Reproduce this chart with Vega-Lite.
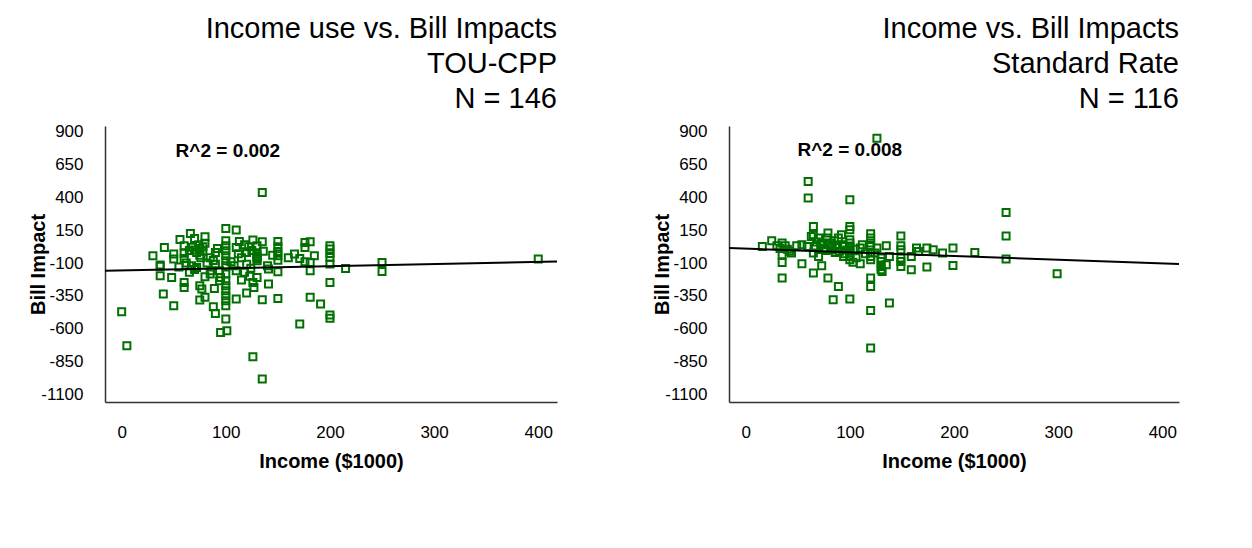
{
  "$schema": "https://vega.github.io/schema/vega-lite/v6.json",
  "padding": {"left": 28, "top": 14, "right": 5, "bottom": 5},
  "background": "white",
  "config": {
    "view": {"stroke": null},
    "font": "Liberation Sans",
    "axis": {"grid": false, "ticks": false, "domainColor": "#333333", "domainWidth": 1.5, "labelFont": "Liberation Sans", "labelFontSize": 17, "labelColor": "#000000", "titleFont": "Liberation Sans", "titleFontSize": 20, "titleFontWeight": "bold", "titleColor": "#000000", "labelExpr": "datum.value + ''"},
    "axisX": {"labelPadding": 22, "titlePadding": 11},
    "axisY": {"labelPadding": 22, "titlePadding": -8},
    "title": {"font": "Liberation Sans", "fontSize": 29, "fontWeight": "normal", "anchor": "end", "lineHeight": 35, "color": "#000000", "offset": 9, "frame": "group"}
  },
  "datasets": {
    "tou": [
      {"income": 0, "impact": -472}, {"income": 5, "impact": -731}, {"income": 30, "impact": -45}, {"income": 37, "impact": -115}, {"income": 37, "impact": -125},
      {"income": 37, "impact": -197}, {"income": 40, "impact": -337}, {"income": 41, "impact": 18}, {"income": 48, "impact": -210}, {"income": 50, "impact": -32},
      {"income": 50, "impact": -70}, {"income": 50, "impact": -426}, {"income": 56, "impact": 79}, {"income": 60, "impact": 31}, {"income": 60, "impact": -25},
      {"income": 60, "impact": -65}, {"income": 60, "impact": -248}, {"income": 60, "impact": -286}, {"income": 66, "impact": 125}, {"income": 70, "impact": 87},
      {"income": 70, "impact": -150}, {"income": 65, "impact": -5}, {"income": 68, "impact": 20}, {"income": 70, "impact": 0}, {"income": 72, "impact": -20},
      {"income": 74, "impact": 40}, {"income": 75, "impact": 10}, {"income": 75, "impact": -40}, {"income": 76, "impact": -60}, {"income": 78, "impact": 25},
      {"income": 78, "impact": -10}, {"income": 80, "impact": 100}, {"income": 80, "impact": 50}, {"income": 80, "impact": -205}, {"income": 80, "impact": -362},
      {"income": 75, "impact": -273}, {"income": 77, "impact": -299}, {"income": 75, "impact": -383}, {"income": 82, "impact": -100}, {"income": 85, "impact": -184},
      {"income": 86, "impact": -159}, {"income": 89, "impact": -294}, {"income": 88, "impact": -433}, {"income": 90, "impact": -485}, {"income": 90, "impact": -20},
      {"income": 94, "impact": -159}, {"income": 95, "impact": -210}, {"income": 94, "impact": -235}, {"income": 95, "impact": -629}, {"income": 100, "impact": 163},
      {"income": 100, "impact": 69}, {"income": 100, "impact": 31}, {"income": 100, "impact": -7}, {"income": 100, "impact": -45}, {"income": 100, "impact": -83},
      {"income": 100, "impact": -121}, {"income": 100, "impact": -184}, {"income": 100, "impact": -235}, {"income": 100, "impact": -273}, {"income": 100, "impact": -311},
      {"income": 100, "impact": -350}, {"income": 100, "impact": -388}, {"income": 100, "impact": -426}, {"income": 100, "impact": -527}, {"income": 101, "impact": -616},
      {"income": 110, "impact": 151}, {"income": 110, "impact": 18}, {"income": 110, "impact": -159}, {"income": 110, "impact": -375}, {"income": 113, "impact": 64},
      {"income": 115, "impact": -60}, {"income": 118, "impact": -170}, {"income": 120, "impact": -329}, {"income": 122, "impact": 24}, {"income": 120, "impact": -20},
      {"income": 125, "impact": -5}, {"income": 123, "impact": -200}, {"income": 126, "impact": 75}, {"income": 126, "impact": -248}, {"income": 126, "impact": -815},
      {"income": 127, "impact": -286}, {"income": 130, "impact": 31}, {"income": 130, "impact": -32}, {"income": 130, "impact": -45}, {"income": 130, "impact": -58},
      {"income": 130, "impact": -70}, {"income": 130, "impact": -83}, {"income": 130, "impact": -210}, {"income": 135, "impact": 438}, {"income": 135, "impact": 62},
      {"income": 136, "impact": -10}, {"income": 135, "impact": -380}, {"income": 135, "impact": -985}, {"income": 141, "impact": -146}, {"income": 141, "impact": -260},
      {"income": 150, "impact": 64}, {"income": 150, "impact": 24}, {"income": 150, "impact": -12}, {"income": 150, "impact": -45}, {"income": 150, "impact": -78},
      {"income": 150, "impact": -167}, {"income": 150, "impact": -370}, {"income": 166, "impact": -32}, {"income": 171, "impact": -65}, {"income": 171, "impact": -565},
      {"income": 176, "impact": 57}, {"income": 176, "impact": 18}, {"income": 176, "impact": -91}, {"income": 181, "impact": 62}, {"income": 181, "impact": -96},
      {"income": 181, "impact": -159}, {"income": 181, "impact": -362}, {"income": 185, "impact": -45}, {"income": 191, "impact": -413}, {"income": 200, "impact": 31},
      {"income": 200, "impact": 6}, {"income": 200, "impact": -27}, {"income": 200, "impact": -58}, {"income": 200, "impact": -108}, {"income": 200, "impact": -248},
      {"income": 200, "impact": -497}, {"income": 200, "impact": -522}, {"income": 215, "impact": -142}, {"income": 250, "impact": -96}, {"income": 250, "impact": -164},
      {"income": 400, "impact": -70}, {"income": 62, "impact": -100}, {"income": 67, "impact": -120}, {"income": 72, "impact": -135}, {"income": 85, "impact": -60},
      {"income": 88, "impact": -80}, {"income": 92, "impact": 10}, {"income": 105, "impact": -90}, {"income": 108, "impact": -120}, {"income": 112, "impact": -30},
      {"income": 118, "impact": 40}, {"income": 120, "impact": -110}, {"income": 124, "impact": -140}, {"income": 140, "impact": -120}, {"income": 145, "impact": -40},
      {"income": 55, "impact": -130}, {"income": 65, "impact": -170}, {"income": 90, "impact": -110}, {"income": 115, "impact": -230}, {"income": 160, "impact": -60}
    ],
    "std": [
      {"income": 16, "impact": 26}, {"income": 25, "impact": 70}, {"income": 30, "impact": 31}, {"income": 33, "impact": 10}, {"income": 35, "impact": 52},
      {"income": 35, "impact": -37}, {"income": 35, "impact": -96}, {"income": 35, "impact": -215}, {"income": 38, "impact": 31}, {"income": 40, "impact": 5},
      {"income": 42, "impact": -10}, {"income": 44, "impact": -24}, {"income": 49, "impact": 31}, {"income": 54, "impact": 39}, {"income": 54, "impact": -106},
      {"income": 59, "impact": 26}, {"income": 60, "impact": 521}, {"income": 60, "impact": 395}, {"income": 63, "impact": 102}, {"income": 65, "impact": 178},
      {"income": 65, "impact": 115}, {"income": 65, "impact": -24}, {"income": 65, "impact": -177}, {"income": 67, "impact": 26}, {"income": 68, "impact": 60},
      {"income": 70, "impact": 90}, {"income": 70, "impact": -50}, {"income": 72, "impact": 40}, {"income": 73, "impact": 52}, {"income": 73, "impact": -121},
      {"income": 75, "impact": 10}, {"income": 76, "impact": 14}, {"income": 77, "impact": -5}, {"income": 78, "impact": 90}, {"income": 79, "impact": 128},
      {"income": 79, "impact": -215}, {"income": 80, "impact": 40}, {"income": 81, "impact": 52}, {"income": 82, "impact": 0}, {"income": 83, "impact": 26},
      {"income": 84, "impact": -380}, {"income": 85, "impact": 70}, {"income": 86, "impact": -20}, {"income": 88, "impact": 20}, {"income": 89, "impact": 90},
      {"income": 89, "impact": -279}, {"income": 90, "impact": -10}, {"income": 92, "impact": 115}, {"income": 93, "impact": 40}, {"income": 94, "impact": -50},
      {"income": 95, "impact": 26}, {"income": 95, "impact": -30}, {"income": 97, "impact": 0}, {"income": 100, "impact": 382}, {"income": 100, "impact": 178},
      {"income": 100, "impact": 153}, {"income": 100, "impact": 77}, {"income": 100, "impact": 52}, {"income": 100, "impact": 30}, {"income": 100, "impact": 14},
      {"income": 100, "impact": -5}, {"income": 100, "impact": -24}, {"income": 100, "impact": -50}, {"income": 100, "impact": -75}, {"income": 100, "impact": -375},
      {"income": 103, "impact": -95}, {"income": 106, "impact": -60}, {"income": 110, "impact": 14}, {"income": 110, "impact": -106}, {"income": 120, "impact": 123},
      {"income": 120, "impact": 90}, {"income": 120, "impact": 52}, {"income": 120, "impact": 26}, {"income": 120, "impact": -20}, {"income": 120, "impact": -50},
      {"income": 120, "impact": -75}, {"income": 120, "impact": -215}, {"income": 120, "impact": -279}, {"income": 120, "impact": -462}, {"income": 120, "impact": -748},
      {"income": 124, "impact": -24}, {"income": 126, "impact": 852}, {"income": 126, "impact": 14}, {"income": 130, "impact": -62}, {"income": 130, "impact": -88},
      {"income": 130, "impact": -126}, {"income": 130, "impact": -152}, {"income": 131, "impact": -165}, {"income": 135, "impact": 31}, {"income": 135, "impact": -113},
      {"income": 138, "impact": -50}, {"income": 138, "impact": -405}, {"income": 149, "impact": 107}, {"income": 149, "impact": 31}, {"income": 149, "impact": 1},
      {"income": 149, "impact": -62}, {"income": 149, "impact": -88}, {"income": 149, "impact": -126}, {"income": 159, "impact": -50}, {"income": 159, "impact": -152},
      {"income": 164, "impact": 14}, {"income": 166, "impact": -12}, {"income": 174, "impact": 14}, {"income": 174, "impact": -131}, {"income": 180, "impact": 1},
      {"income": 189, "impact": -24}, {"income": 199, "impact": 14}, {"income": 199, "impact": -119}, {"income": 220, "impact": -20}, {"income": 250, "impact": 285},
      {"income": 250, "impact": 107}, {"income": 250, "impact": -70}, {"income": 299, "impact": -182}, {"income": 112, "impact": 40}, {"income": 115, "impact": -30},
      {"income": 105, "impact": 5}
    ],
    "touTrend": [{"income": -16, "impact": -159}, {"income": 418, "impact": -88}],
    "stdTrend": [{"income": -16, "impact": 14}, {"income": 416, "impact": -107}],
    "touLabel": [{"income": 102, "impact": 755, "label": "R^2 = 0.002"}],
    "stdLabel": [{"income": 100, "impact": 760, "label": "R^2 = 0.008"}]
  },
  "spacing": 91,
  "hconcat": [
    {
      "width": 452,
      "height": 276,
      "title": {"text": ["Income use vs. Bill Impacts", "TOU-CPP", "N = 146"]},
      "encoding": {
        "x": {"field": "income", "type": "quantitative", "scale": {"domain": [-16, 418], "nice": false, "zero": false}, "axis": {"values": [0, 100, 200, 300, 400], "title": "Income ($1000)"}},
        "y": {"field": "impact", "type": "quantitative", "scale": {"domain": [-1160, 945], "nice": false, "zero": false}, "axis": {"values": [-1100, -850, -600, -350, -100, 150, 400, 650, 900], "title": "Bill Impact"}}
      },
      "layer": [
        {"data": {"name": "tou"}, "mark": {"type": "point", "shape": "square", "filled": false, "size": 49, "strokeWidth": 2, "color": "#007000", "opacity": 1}},
        {"data": {"name": "touTrend"}, "mark": {"type": "line", "color": "#000000", "strokeWidth": 2}},
        {"data": {"name": "touLabel"}, "mark": {"type": "text", "fontWeight": "bold", "fontSize": 19, "font": "Liberation Sans", "color": "#000000"}, "encoding": {"text": {"field": "label"}}}
      ]
    },
    {
      "width": 450,
      "height": 276,
      "title": {"text": ["Income vs. Bill Impacts", "Standard Rate", "N = 116"]},
      "encoding": {
        "x": {"field": "income", "type": "quantitative", "scale": {"domain": [-16, 416], "nice": false, "zero": false}, "axis": {"values": [0, 100, 200, 300, 400], "title": "Income ($1000)"}},
        "y": {"field": "impact", "type": "quantitative", "scale": {"domain": [-1160, 945], "nice": false, "zero": false}, "axis": {"values": [-1100, -850, -600, -350, -100, 150, 400, 650, 900], "title": "Bill Impact"}}
      },
      "layer": [
        {"data": {"name": "std"}, "mark": {"type": "point", "shape": "square", "filled": false, "size": 49, "strokeWidth": 2, "color": "#007000", "opacity": 1}},
        {"data": {"name": "stdTrend"}, "mark": {"type": "line", "color": "#000000", "strokeWidth": 2}},
        {"data": {"name": "stdLabel"}, "mark": {"type": "text", "fontWeight": "bold", "fontSize": 19, "font": "Liberation Sans", "color": "#000000"}, "encoding": {"text": {"field": "label"}}}
      ]
    }
  ]
}
